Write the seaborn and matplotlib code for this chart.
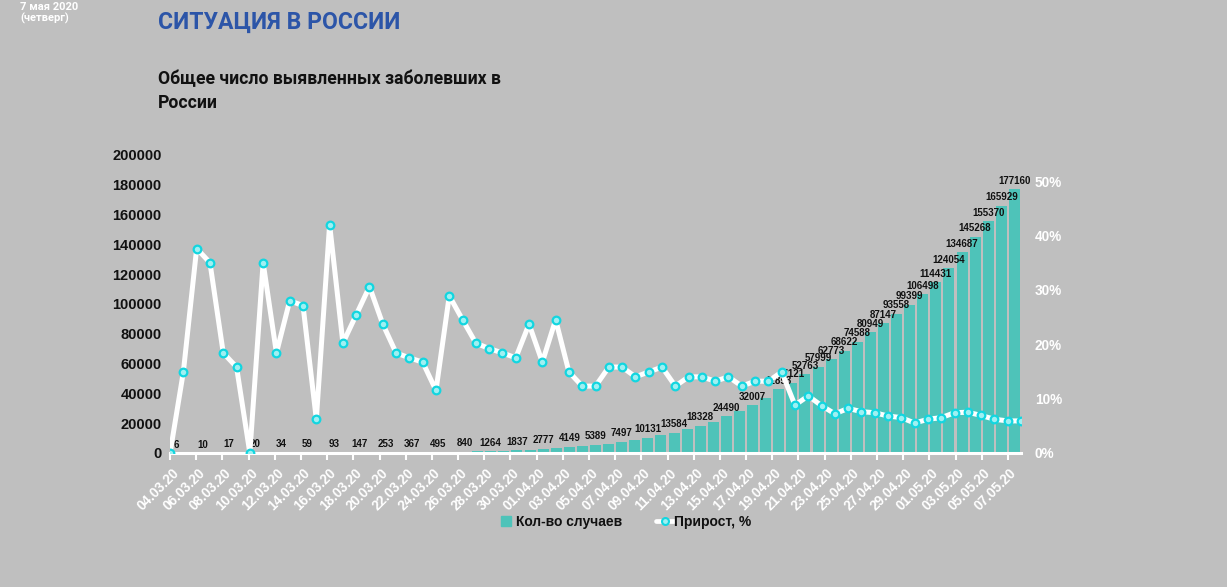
import numpy as np
import pandas as pd
import matplotlib
matplotlib.use('Agg')
import matplotlib.pyplot as plt
import seaborn as sns
from matplotlib.lines import Line2D

# ---------------- data ----------------
dates = [d.strftime('%d.%m.%y') for d in pd.date_range('2020-03-04', '2020-05-07')]

cases = [6, 7, 10, 14, 17, 20, 20, 28, 34, 45,
         59, 63, 93, 114, 147, 199, 253, 306, 367, 438,
         495, 658, 840, 1036, 1264, 1534, 1837, 2337, 2777, 3548,
         4149, 4731, 5389, 6343, 7497, 8672, 10131, 11917, 13584, 15770,
         18328, 21102, 24490, 27938, 32007, 36793, 42853, 47121, 52763, 57999,
         62773, 68622, 74588, 80949, 87147, 93558, 99399, 106498, 114431, 124054,
         134687, 145268, 155370, 165929, 177160]

growth_pct = [0, 14.9, 37.6, 35.0, 18.4, 15.8, 0, 35.0, 18.4, 28.0,
              27.1, 6.2, 42.0, 20.2, 25.4, 30.6, 23.7, 18.4, 17.5, 16.7,
              11.5, 28.9, 24.5, 20.2, 19.2, 18.4, 17.5, 23.7, 16.7, 24.5,
              14.9, 12.3, 12.3, 15.8, 15.8, 14.0, 14.9, 15.8, 12.3, 14.0,
              14.0, 13.2, 14.0, 12.3, 13.2, 13.2, 14.9, 8.8, 10.5, 8.7,
              7.2, 8.2, 7.6, 7.4, 6.8, 6.5, 5.5, 6.2, 6.5, 7.4,
              7.5, 6.9, 6.2, 5.9, 5.9]

left_ticks = list(range(0, 200001, 20000))
right_ticks = [0, 10, 20, 30, 40, 50]

title = 'СИТУАЦИЯ В РОССИИ'
subtitle = 'Общее число выявленных заболевших в\nРоссии'
date_note = '7 мая 2020\n(четверг)'
legend_bar = 'Кол-во случаев'
legend_line = 'Прирост, %'

# ---------------- style ----------------
BG = '#BFBFBF'
TEAL = '#4EC3B9'
CYAN = '#12D6E0'
BLUE = '#2C55A8'

sns.set_style('white', {'axes.facecolor': BG, 'figure.facecolor': BG})
plt.rcParams['font.family'] = ['Liberation Sans', 'DejaVu Sans']

fig = plt.figure(figsize=(12.27, 5.87), dpi=100)
fig.patch.set_facecolor(BG)
ax = fig.add_axes([0.1386, 0.2283, 0.6935, 0.5077])
ax.set_facecolor(BG)

df = pd.DataFrame({'date': dates, 'cases': cases})
sns.barplot(data=df, x='date', y='cases', order=dates, ax=ax, color=TEAL,
            width=0.84, saturation=1, edgecolor='none')
n = len(dates)
ax.set_xlim(-0.5, n - 0.5)
ax.set_ylim(0, 200000)
ax.set_xlabel('')
ax.set_ylabel('')

# bar labels
for i, v in enumerate(cases):
    if i % 2 == 0 or i >= 46:
        ax.annotate(str(v), (i, v), xytext=(0, 2.5), textcoords='offset points',
                    ha='center', va='bottom', fontsize=7, fontweight='bold',
                    color='#111111')

# x ticks
ax.set_xticks(range(0, n, 2))
ax.set_xticklabels(dates[::2], rotation=45, ha='right', va='center',
                   rotation_mode='anchor', color='white', fontsize=9.8,
                   fontweight='bold')
ax.set_xticks(np.arange(-0.5, n - 0.5, 2), minor=True)
ax.tick_params(axis='x', which='major', length=0, pad=13)
ax.tick_params(axis='x', which='minor', length=5, width=1.5, color='white',
               direction='out', bottom=True)

# y ticks
ax.set_yticks(left_ticks)
ax.set_yticklabels([str(t) for t in left_ticks], fontsize=10.5,
                   fontweight='bold', color='#111111')
ax.tick_params(axis='y', length=0, pad=6)

for s in ['top', 'left', 'right']:
    ax.spines[s].set_visible(False)
ax.spines['bottom'].set_color('white')
ax.spines['bottom'].set_linewidth(2.2)
ax.spines['bottom'].set_zorder(5)

# secondary axis: growth line
ax2 = ax.twinx()
line_x = [-0.5 + i * n / (n - 1) for i in range(n)]
sns.lineplot(x=line_x, y=growth_pct, ax=ax2, sort=False, color='white',
             linewidth=3.6, marker='o', markersize=5.5,
             markerfacecolor='#9FF0F2', markeredgecolor=CYAN,
             markeredgewidth=1.6, zorder=3)
ax2.set_ylim(0, 54.8)
ax2.set_yticks(right_ticks)
ax2.set_yticklabels([f'{t}%' for t in right_ticks], color='white',
                    fontsize=9.8, fontweight='bold')
ax2.tick_params(axis='y', length=0, pad=10)
ax2.set_ylabel('')
for s in ax2.spines.values():
    s.set_visible(False)
ax2.set_xlim(-0.5, n - 0.5)

# legend
handles = [
    Line2D([], [], ls='none', marker='s', markersize=7.5, color=TEAL,
           label=legend_bar),
    Line2D([], [], color='white', lw=3.4, marker='o', markersize=5,
           markerfacecolor='#9FF0F2', markeredgecolor=CYAN,
           markeredgewidth=1.5, label=legend_line),
]
fig.legend(handles=handles, loc='center', bbox_to_anchor=(0.509, 0.111),
           ncol=2, frameon=False, prop={'size': 10, 'weight': 'bold'},
           handlelength=1.3, handletextpad=0.05, columnspacing=2.4,
           labelcolor='#111111')

# titles
fig.text(158 / 1227, 1 - 29 / 587, title, fontsize=16.6, fontweight='bold',
         color=BLUE, family=['Roboto', 'DejaVu Sans'], va='baseline')
fig.text(158 / 1227, 1 - 70 / 587, subtitle, fontsize=12.7, fontweight='bold',
         color='#111111', family=['Roboto', 'DejaVu Sans'], va='top',
         linespacing=1.45)
fig.text(20 / 1227, 1 - 2 / 587, date_note, fontsize=8, fontweight='bold',
         color='white', family=['Roboto', 'DejaVu Sans'], va='top', ha='left',
         multialignment='left', linespacing=1.05)

fig.savefig('out.png', dpi=100, facecolor=BG)
